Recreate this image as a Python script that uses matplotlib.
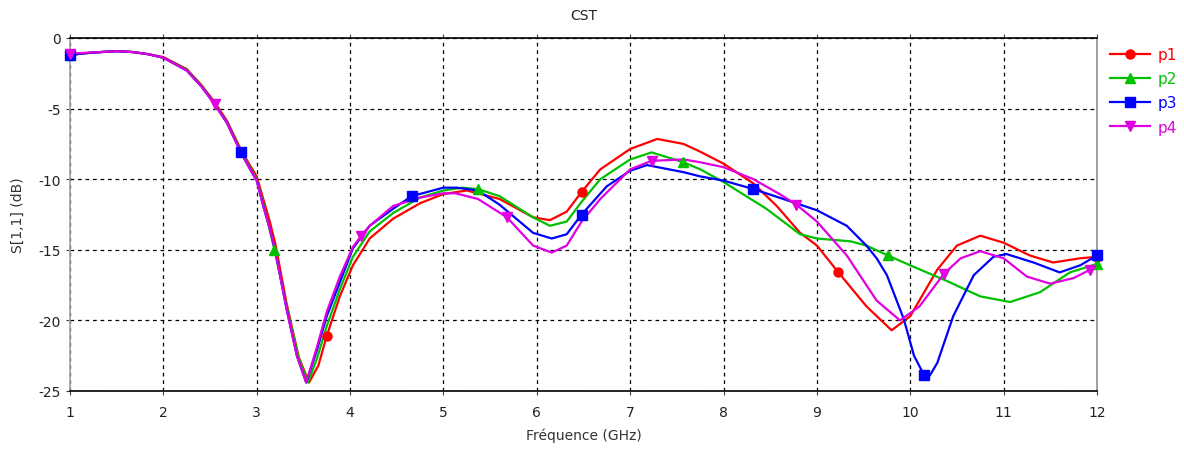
import matplotlib
matplotlib.use("Agg")
import matplotlib.pyplot as plt

# S11 curves (GHz, dB) for the four parameter variants
freq_p1 = [1.0, 1.16, 1.32, 1.5, 1.68, 1.84, 2.0, 2.25, 2.41, 2.55, 2.68, 2.83, 2.93, 3.0, 3.07, 3.14, 3.2,
           3.32, 3.45, 3.56, 3.66, 3.75, 3.89, 4.03, 4.21, 4.46, 4.75, 5.0, 5.25, 5.6, 5.96,
           6.14, 6.32, 6.48, 6.68, 7.0, 7.29, 7.57, 7.75, 8.0, 8.32, 8.57, 8.82, 9.0, 9.23,
           9.53, 9.8, 10.0, 10.29, 10.5, 10.75, 11.0, 11.28, 11.53, 11.82, 12.0]
s11_p1 = [-1.2, -1.08, -1.0, -0.93, -1.0, -1.15, -1.35, -2.2, -3.35, -4.55, -5.85, -7.9, -9.05, -9.8, -11.4, -13.0, -14.6,
          -18.8, -22.6, -24.4, -23.2, -21.1, -18.3, -16.1, -14.2, -12.8, -11.7, -11.05, -10.8, -11.4, -12.7,
          -12.9, -12.3, -10.9, -9.3, -7.86, -7.15, -7.5, -8.05, -8.9, -10.3, -11.9, -13.8, -14.7, -16.6,
          -19.0, -20.7, -19.7, -16.4, -14.7, -14.0, -14.5, -15.4, -15.9, -15.6, -15.5]

freq_p2 = [1.0, 1.16, 1.32, 1.5, 1.68, 1.84, 2.0, 2.25, 2.41, 2.55, 2.68, 2.83, 2.93, 3.0, 3.07, 3.19, 3.32,
           3.45, 3.55, 3.65, 3.75, 3.89, 4.03, 4.21, 4.46, 4.75, 5.0, 5.2, 5.37, 5.6, 5.96,
           6.14, 6.32, 6.48, 6.68, 7.0, 7.23, 7.57, 7.75, 8.0, 8.46, 8.82, 9.0, 9.36, 9.53,
           9.76, 10.0, 10.39, 10.75, 11.07, 11.39, 11.71, 12.0]
s11_p2 = [-1.2, -1.08, -1.0, -0.93, -1.0, -1.15, -1.4, -2.25, -3.4, -4.65, -5.95, -8.0, -9.2, -10.0, -11.7, -15.0, -19.0,
          -22.7, -24.4, -22.6, -20.4, -17.8, -15.5, -13.7, -12.4, -11.3, -10.8, -10.6, -10.7, -11.2, -12.7,
          -13.3, -13.0, -11.6, -10.0, -8.6, -8.1, -8.8, -9.3, -10.2, -12.1, -13.9, -14.2, -14.4, -14.7,
          -15.4, -16.1, -17.2, -18.3, -18.7, -18.0, -16.6, -16.0]

freq_p3 = [1.0, 1.16, 1.32, 1.5, 1.68, 1.84, 2.0, 2.25, 2.41, 2.55, 2.68, 2.83, 2.93, 3.0, 3.07, 3.14, 3.2,
           3.32, 3.43, 3.53, 3.64, 3.75, 3.89, 4.03, 4.21, 4.46, 4.66, 5.0, 5.14, 5.37, 5.6,
           5.96, 6.16, 6.32, 6.48, 6.75, 7.0, 7.18, 7.57, 7.75, 8.0, 8.32, 8.64, 9.0, 9.32,
           9.53, 9.64, 9.75, 9.93, 10.04, 10.15, 10.21, 10.29, 10.46, 10.68, 10.89, 11.03, 11.32,
           11.6, 11.82, 12.0]
s11_p3 = [-1.2, -1.08, -1.0, -0.93, -1.0, -1.15, -1.4, -2.3, -3.45, -4.7, -6.0, -8.1, -9.3, -10.1, -11.9, -13.5, -15.1,
          -19.2, -22.5, -24.4, -22.2, -19.7, -17.3, -14.9, -13.3, -12.1, -11.2, -10.6, -10.6, -10.8, -11.8,
          -13.8, -14.2, -13.9, -12.5, -10.5, -9.4, -9.0, -9.5, -9.8, -10.1, -10.7, -11.4, -12.2, -13.3,
          -14.7, -15.6, -16.8, -19.9, -22.5, -23.9, -23.9, -23.0, -19.7, -16.8, -15.5, -15.3, -15.9,
          -16.6, -16.1, -15.4]

freq_p4 = [1.0, 1.16, 1.32, 1.5, 1.68, 1.84, 2.0, 2.25, 2.41, 2.55, 2.68, 2.83, 2.93, 3.0, 3.07, 3.14, 3.2,
           3.32, 3.43, 3.53, 3.64, 3.75, 3.89, 4.03, 4.12, 4.21, 4.46, 4.75, 5.0, 5.13, 5.37,
           5.68, 5.96, 6.16, 6.32, 6.48, 6.68, 7.0, 7.23, 7.57, 7.75, 8.0, 8.32, 8.6, 8.78,
           9.0, 9.32, 9.64, 9.89, 10.1, 10.36, 10.54, 10.75, 11.0, 11.25, 11.5, 11.75, 11.93, 12.0]
s11_p4 = [-1.1, -1.05, -1.0, -0.93, -1.0, -1.15, -1.4, -2.3, -3.45, -4.7, -6.0, -8.1, -9.3, -10.1, -11.9, -13.5, -15.1,
          -19.2, -22.5, -24.4, -22.0, -19.4, -16.9, -14.8, -14.0, -13.3, -11.9, -11.3, -11.0, -11.0, -11.4,
          -12.7, -14.7, -15.2, -14.7, -13.0, -11.4, -9.3, -8.7, -8.6, -8.8, -9.15, -10.0, -11.05, -11.8,
          -13.0, -15.4, -18.6, -20.0, -19.0, -16.7, -15.6, -15.1, -15.6, -16.9, -17.4, -17.0, -16.4, -16.1]

# marker positions along each curve
mk_x_p1 = [1.0, 3.75, 6.48, 9.23, 12.0]
mk_y_p1 = [-1.2, -21.1, -10.9, -16.6, -15.5]
mk_x_p2 = [1.0, 3.19, 5.37, 7.57, 9.76, 12.0]
mk_y_p2 = [-1.2, -15.0, -10.7, -8.8, -15.4, -16.0]
mk_x_p3 = [1.0, 2.83, 4.66, 6.48, 8.32, 10.15, 12.0]
mk_y_p3 = [-1.2, -8.1, -11.2, -12.5, -10.7, -23.9, -15.4]
mk_x_p4 = [1.0, 2.55, 4.12, 5.68, 7.23, 8.78, 10.36, 11.93]
mk_y_p4 = [-1.1, -4.7, -14.0, -12.7, -8.7, -11.8, -16.7, -16.4]

labels = ["p1", "p2", "p3", "p4"]
colors = ["#ff0000", "#00c000", "#0000ff", "#e000e0"]
markers = ["o", "^", "s", "v"]
msizes = [6.5, 7.5, 7, 7.5]

x_ticks = list(range(1, 13))
y_ticks = [0, -5, -10, -15, -20, -25]

series = [
    (freq_p1, s11_p1, mk_x_p1, mk_y_p1),
    (freq_p2, s11_p2, mk_x_p2, mk_y_p2),
    (freq_p3, s11_p3, mk_x_p3, mk_y_p3),
    (freq_p4, s11_p4, mk_x_p4, mk_y_p4),
]

plt.rcParams["font.family"] = ["DejaVu Sans"]
plt.rcParams["axes.unicode_minus"] = False
fig = plt.figure(figsize=(11.84, 4.52), dpi=100)
ax = fig.add_axes([70 / 1184, 1 - 392 / 452, (1097 - 70) / 1184, (392 - 39) / 452])

handles = []
for (fx, fy, mx, my), lab, col, mk, ms in zip(series, labels, colors, markers, msizes):
    ax.plot(fx, fy, color=col, lw=1.6, zorder=3, solid_joinstyle="round")
    ax.plot(mx, my, linestyle="none", marker=mk, ms=ms, color=col, zorder=4, clip_on=False)
    h, = ax.plot([], [], color=col, lw=1.6, marker=mk, ms=ms, label=lab)
    handles.append(h)

ax.set_xlim(1, 12)
ax.set_ylim(-25, 0)
ax.set_xticks(x_ticks)
ax.set_yticks(y_ticks)
ax.grid(True, color="black", linestyle=(0, (3, 3)), linewidth=0.9)
ax.set_axisbelow(True)

for side, col in [("left", "#a0a0a0"), ("right", "#909090"), ("top", "black"), ("bottom", "black")]:
    ax.spines[side].set_color(col)
    ax.spines[side].set_linewidth(1.2)

ax.tick_params(axis="both", direction="out", length=3, width=0.8, color="#404040",
               labelsize=10, labelcolor="#222222", top=True, right=False)
ax.tick_params(axis="x", pad=7)

ax.set_title("CST", fontsize=10, color="#222222", pad=14)
ax.set_xlabel("Fréquence (GHz)", fontsize=10, color="#333333", labelpad=6)
ax.set_ylabel("S[1,1] (dB)", fontsize=10, color="#333333", labelpad=10)

leg = fig.legend(handles=handles, loc="upper left", bbox_to_anchor=(1104 / 1184, 1 - 42 / 452),
                 frameon=False, fontsize=11, handlelength=2.6, handletextpad=0.5,
                 labelspacing=0.6, borderaxespad=0)
for txt, col in zip(leg.get_texts(), colors):
    txt.set_color(col)

fig.savefig("out.png", dpi=100)
